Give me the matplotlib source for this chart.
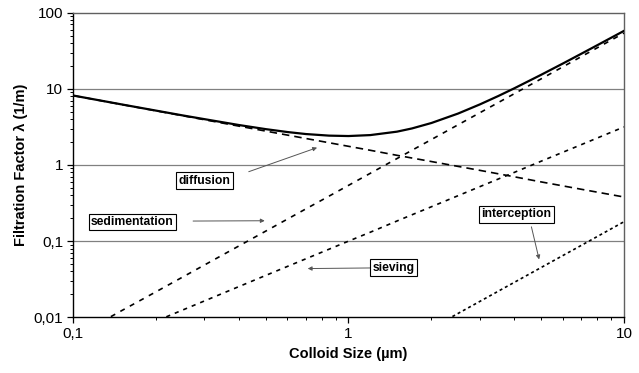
import matplotlib
matplotlib.use('Agg')
import matplotlib.pyplot as plt
from matplotlib.ticker import FixedLocator, FixedFormatter, LogLocator, NullFormatter

plt.rcParams['font.family'] = ['Liberation Sans', 'DejaVu Sans']

# Data (colloid size in µm, filtration factor in 1/m)
size = [0.1, 0.15, 0.2, 0.3, 0.4, 0.5, 0.7, 0.85, 1.0, 1.2, 1.5, 2, 3, 4, 5, 7, 10]
diffusion = [8.17, 6.23, 5.15, 3.93, 3.24, 2.79, 2.23, 1.96, 1.76, 1.56, 1.34, 1.11,
             0.85, 0.70, 0.60, 0.48, 0.38]
sedimentation = [0.0054, 0.0122, 0.0216, 0.0486, 0.0864, 0.135, 0.265, 0.39, 0.54,
                 0.778, 1.215, 2.16, 4.86, 8.64, 13.5, 26.5, 54]
sieving = [0.0032, 0.0058, 0.0089, 0.0164, 0.0253, 0.0354, 0.0586, 0.0784, 0.1,
           0.131, 0.184, 0.283, 0.52, 0.8, 1.12, 1.85, 3.16]
interception_size = [2, 3, 4, 5, 7, 10]
interception = [0.0072, 0.0162, 0.0288, 0.045, 0.088, 0.18]
total_size = [0.1, 0.15, 0.2, 0.25, 0.3, 0.4, 0.5, 0.6, 0.7, 0.85, 1.0, 1.2, 1.5,
              1.7, 2, 2.5, 3, 3.5, 4, 5, 6, 7, 8, 10]
total = [8.18, 6.25, 5.18, 4.48, 4.00, 3.35, 2.96, 2.71, 2.55, 2.43, 2.40, 2.47, 2.74,
         3.02, 3.56, 4.74, 6.25, 8.06, 10.17, 15.27, 21.5, 28.9, 37.4, 57.7]

y_ticks = [0.01, 0.1, 1, 10, 100]
y_tick_labels = ['0,01', '0,1', '1', '10', '100']
x_ticks = [0.1, 1, 10]
x_tick_labels = ['0,1', '1', '10']

fig = plt.figure(figsize=(6.39, 3.73), dpi=100)
ax = fig.add_axes([0.1142, 0.1493, 0.8623, 0.8167])
ax.set_xscale('log')
ax.set_yscale('log')
ax.set_xlim(0.1, 10)
ax.set_ylim(0.01, 100)

for yv in [0.1, 1, 10]:
    ax.axhline(yv, color='#808080', lw=0.9, zorder=1)

ax.plot(size, diffusion, color='black', lw=1.2, dashes=(4.5, 3), zorder=3)
ax.plot(size, sedimentation, color='black', lw=1.2, dashes=(3, 3.5), zorder=3)
ax.plot(size, sieving, color='black', lw=1.2, dashes=(2.5, 3), zorder=3)
ax.plot(interception_size, interception, color='black', lw=1.2, dashes=(1.8, 1.8), zorder=3)
ax.plot(total_size, total, color='black', lw=1.6, zorder=4)

ax.yaxis.set_major_locator(FixedLocator(y_ticks))
ax.yaxis.set_major_formatter(FixedFormatter(y_tick_labels))
ax.xaxis.set_major_locator(FixedLocator(x_ticks))
ax.xaxis.set_major_formatter(FixedFormatter(x_tick_labels))
ax.yaxis.set_minor_locator(LogLocator(base=10, subs=range(2, 10)))
ax.xaxis.set_minor_locator(LogLocator(base=10, subs=range(2, 10)))
ax.yaxis.set_minor_formatter(NullFormatter())
ax.xaxis.set_minor_formatter(NullFormatter())
ax.tick_params(which='major', length=4, width=0.9, labelsize=11, direction='out', pad=3)
ax.tick_params(which='minor', length=2.5, width=0.7, direction='out')

for side in ['left', 'bottom']:
    ax.spines[side].set_color('black')
    ax.spines[side].set_linewidth(1.0)
for side in ['top', 'right']:
    ax.spines[side].set_color('#606060')
    ax.spines[side].set_linewidth(1.0)

ax.set_xlabel('Colloid Size (µm)', fontsize=10.5, fontweight='bold', labelpad=4)
ax.set_ylabel('Filtration Factor λ (1/m)', fontsize=10.5, fontweight='bold', labelpad=4)

box = dict(boxstyle='square,pad=0.2', fc='white', ec='black', lw=0.8)
arrow = dict(arrowstyle='-|>', color='#555555', lw=0.7, mutation_scale=6, shrinkA=0, shrinkB=0)

labels = [
    ('diffusion', (0.239, 0.449), (0.319, 0.478), (0.443, 0.557)),
    ('sedimentation', (0.108, 0.313), (0.218, 0.316), (0.348, 0.317)),
    ('sieving', (0.582, 0.163), (0.539, 0.162), (0.426, 0.160)),
    ('interception', (0.805, 0.338), (0.832, 0.297), (0.846, 0.190)),
]
for txt, pos, start, tip in labels:
    ax.text(pos[0], pos[1], txt, transform=ax.transAxes, ha='center', va='center',
            fontsize=8.7, fontweight='bold', bbox=box, zorder=6)
    ax.annotate('', xy=tip, xytext=start, xycoords='axes fraction',
                textcoords='axes fraction', arrowprops=arrow, zorder=5)

fig.savefig('out.png', dpi=100)
